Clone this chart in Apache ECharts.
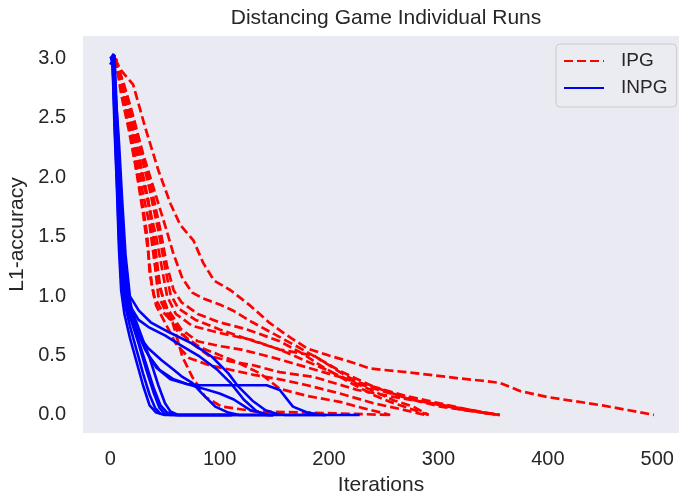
<!DOCTYPE html>
<html>
<head>
<meta charset="utf-8">
<script src="https://cdn.jsdelivr.net/npm/echarts@6/dist/echarts.min.js"></script>
<style>html,body{margin:0;padding:0;background:#fff}#c{width:681px;height:493px}</style>
</head>
<body>
<div id="c"></div>
<script>
// ---- data (iterations, L1-accuracy) ----
const ipgA = [[4,3.0],[10,2.9],[21,2.78],[32,2.42],[44,2.06],[55,1.78],[64,1.6],[76,1.47],[85,1.28],[95,1.13],[110,1.05],[128,0.92],[145,0.78],[160,0.68],[180,0.56],[200,0.5],[215,0.46],[238,0.39],[271,0.36],[317,0.31],[338,0.29],[356,0.27],[375,0.2],[400,0.15],[450,0.08],[497,0]];
const ipgB = [[4,3.0],[12,2.8],[20,2.55],[30,2.2],[40,1.9],[50,1.6],[58,1.35],[66,1.15],[75,1.03],[85,0.98],[100,0.93],[112,0.88],[130,0.78],[150,0.68],[170,0.58],[195,0.45],[210,0.37],[240,0.24],[271,0.14],[302,0.07],[332,0.03],[356,0]];
const ipgC = [[5,3.0],[10,2.85],[18,2.6],[28,2.25],[38,1.9],[46,1.55],[52,1.25],[58,1.05],[65,0.95],[80,0.85],[100,0.78],[125,0.72],[155,0.62],[175,0.52],[195,0.4],[216,0.29],[240,0.17],[256,0.11],[275,0.05],[291,0]];
const ipgD = [[4,3.0],[9,2.8],[16,2.5],[25,2.15],[33,1.85],[42,1.5],[48,1.2],[52,1.0],[60,0.85],[75,0.75],[100,0.69],[130,0.63],[155,0.55],[180,0.45],[200,0.37],[231,0.24],[260,0.12],[277,0.07],[291,0]];
const ipgE = [[5,3.0],[11,2.8],[19,2.5],[28,2.2],[36,1.9],[44,1.55],[50,1.25],[55,1.02],[62,0.9],[78,0.8],[100,0.72],[125,0.64],[155,0.55],[186,0.5],[210,0.36],[231,0.25],[260,0.17],[292,0.1],[325,0.04],[356,0]];
const ipgF = [[4,3.0],[8,2.85],[15,2.6],[23,2.3],[30,2.0],[37,1.7],[42,1.35],[46,1.05],[52,0.9],[65,0.72],[80,0.62],[100,0.58],[120,0.55],[150,0.48],[180,0.4],[210,0.32],[240,0.24],[270,0.16],[300,0.1],[330,0.04],[356,0]];
const ipgG = [[5,3.0],[12,2.75],[20,2.45],[27,2.15],[35,1.8],[40,1.45],[44,1.15],[49,0.95],[58,0.78],[72,0.62],[90,0.5],[110,0.45],[130,0.42],[155,0.36],[186,0.32],[226,0.21],[260,0.15],[300,0.09],[330,0.04],[352,0]];
const ipgH = [[5,3.0],[10,2.7],[17,2.4],[24,2.05],[30,1.7],[35,1.35],[38,1.1],[42,0.92],[50,0.78],[60,0.6],[72,0.48],[90,0.42],[110,0.38],[130,0.34],[155,0.3],[180,0.25],[210,0.18],[240,0.1],[265,0.05],[288,0]];
const ipgL1 = [[5,3.0],[10,2.75],[18,2.45],[24,2.06],[30,1.75],[34,1.5],[36,1.2],[40,1.0],[47,0.88],[57,0.78],[66,0.49],[75,0.32],[87,0.15],[102,0.07],[133,0.03],[180,0.02],[256,0]];
const ipgL2 = [[5,3.0],[12,2.7],[20,2.3],[28,1.95],[36,1.6],[41,1.25],[44,1.0],[52,0.85],[62,0.7],[82,0.57],[112,0.46],[137,0.35],[155,0.22],[180,0.16],[210,0.11],[230,0.06],[256,0]];

const inpg1 = [[0,3.0],[2,3.02],[4,2.5],[6,2.0],[8,1.5],[10,1.15],[13,0.95],[18,0.75],[24,0.55],[30,0.35],[36,0.17],[41,0.06],[46,0.01],[55,0],[111,0]];
const inpg2 = [[1,2.98],[3,3.03],[5,2.6],[7,2.1],[9,1.6],[11,1.2],[14,0.98],[19,0.8],[26,0.6],[33,0.38],[40,0.18],[45,0.06],[50,0.01],[60,0],[111,0]];
const inpg3 = [[0,2.95],[3,3.0],[5,2.45],[8,1.9],[11,1.4],[14,1.05],[18,0.85],[25,0.65],[32,0.45],[40,0.22],[46,0.08],[52,0.02],[60,0],[149,0]];
const inpg4 = [[2,3.0],[4,3.03],[6,2.55],[8,2.2],[10,1.85],[12,1.45],[15,1.1],[20,0.88],[28,0.68],[36,0.48],[44,0.25],[50,0.1],[55,0.03],[62,0],[111,0]];
const inpg5 = [[0,3.0],[3,3.0],[5,2.5],[7,2.0],[9,1.5],[12,1.1],[17,0.85],[25,0.68],[35,0.56],[47,0.46],[58,0.38],[66,0.32],[75,0.27],[84,0.18],[96,0.07],[108,0.02],[118,0],[149,0]];
const inpg6 = [[1,3.0],[3,3.02],[5,2.6],[8,2.05],[10,1.6],[13,1.15],[17,0.9],[24,0.72],[32,0.55],[42,0.4],[55,0.3],[70,0.26],[82,0.23],[100,0.18],[113,0.13],[128,0.04],[137,0.02],[145,0],[197,0]];
const inpg7 = [[0,3.0],[2,3.0],[4,2.6],[7,2.05],[10,1.55],[13,1.15],[18,0.92],[26,0.8],[35,0.74],[50,0.67],[62,0.6],[82,0.49],[98,0.38],[110,0.27],[122,0.13],[134,0.03],[143,0],[149,0]];
const inpg8 = [[1,3.0],[3,3.04],[5,2.7],[8,2.3],[11,1.8],[14,1.35],[18,1.0],[26,0.88],[37,0.78],[53,0.7],[75,0.6],[93,0.49],[108,0.35],[117,0.24],[130,0.12],[142,0.04],[152,0.01],[160,0],[197,0]];
const inpg9 = [[0,3.0],[3,3.0],[5,2.55],[8,2.1],[11,1.65],[14,1.2],[18,0.9],[25,0.7],[35,0.5],[45,0.38],[58,0.3],[70,0.26],[82,0.25],[143,0.25],[155,0.21],[167,0.07],[180,0.02],[195,0],[228,0]];
const inpg10 = [[0,3.0],[2,3.01],[4,2.4],[6,1.95],[8,1.4],[10,1.05],[13,0.85],[18,0.65],[24,0.45],[30,0.25],[36,0.08],[42,0.02],[50,0],[149,0]];

const ipgRuns = [ipgA, ipgB, ipgC, ipgD, ipgE, ipgF, ipgG, ipgH, ipgL1, ipgL2];
const inpgRuns = [inpg1, inpg2, inpg3, inpg4, inpg5, inpg6, inpg7, inpg8, inpg9, inpg10];
const xTicks = [0, 100, 200, 300, 400, 500];
const yTicks = [0, 0.5, 1.0, 1.5, 2.0, 2.5, 3.0];

// ---- chart ----
const FONT = '"Liberation Sans", Arial, sans-serif';
const TXT = '#262626';
const series = [];
ipgRuns.forEach(d => series.push({
  name: 'IPG', type: 'line', data: d, symbol: 'none', silent: true,
  lineStyle: { color: '#ff0000', width: 2.7, type: [9, 4] }, itemStyle: { color: '#ff0000' }
}));
inpgRuns.forEach(d => series.push({
  name: 'INPG', type: 'line', data: d, symbol: 'none', silent: true,
  lineStyle: { color: '#0000ff', width: 2.6 }, itemStyle: { color: '#0000ff' }
}));

const chart = echarts.init(document.getElementById('c'), null, { renderer: 'canvas' });
chart.setOption({
  animation: false,
  backgroundColor: '#ffffff',
  title: {
    text: 'Distancing Game Individual Runs', left: 381, top: 3, textAlign: 'center',
    textStyle: { fontFamily: FONT, fontSize: 21, fontWeight: 'normal', color: TXT }
  },
  grid: { left: 83, right: 2, top: 36, bottom: 60, show: true, backgroundColor: '#EAEAF2', borderWidth: 0,
          outerBoundsMode: 'none', containLabel: false },
  legend: {
    data: ['IPG', 'INPG'], orient: 'vertical', left: 556, top: 44,
    padding: [7, 9, 9, 7], itemWidth: 40, itemHeight: 14, itemGap: 7,
    itemStyle: { opacity: 0 },
    backgroundColor: '#EBEBF2', borderColor: '#CCCCCC', borderWidth: 1, borderRadius: 4,
    textStyle: { fontFamily: FONT, fontSize: 19, color: TXT, lineHeight: 20, padding: [0, 0, 0, 12] }
  },
  xAxis: {
    type: 'value', min: -24.85, max: 519.85,
    name: 'Iterations', nameLocation: 'middle', nameGap: 42,
    nameTextStyle: { fontFamily: FONT, fontSize: 21, color: TXT },
    axisLine: { show: false }, axisTick: { show: false }, splitLine: { show: false },
    axisLabel: { customValues: xTicks, margin: 16, fontFamily: FONT, fontSize: 20, color: TXT, formatter: v => String(v) }
  },
  yAxis: {
    type: 'value', min: -0.152, max: 3.19,
    name: 'L1-accuracy', nameLocation: 'middle', nameGap: 50, nameRotate: 90,
    nameTextStyle: { fontFamily: FONT, fontSize: 21, color: TXT },
    axisLine: { show: false }, axisTick: { show: false }, splitLine: { show: false },
    axisLabel: { customValues: yTicks, margin: 17, fontFamily: FONT, fontSize: 20, color: TXT, formatter: v => v.toFixed(1) }
  },
  series: series
});
</script>
</body>
</html>
